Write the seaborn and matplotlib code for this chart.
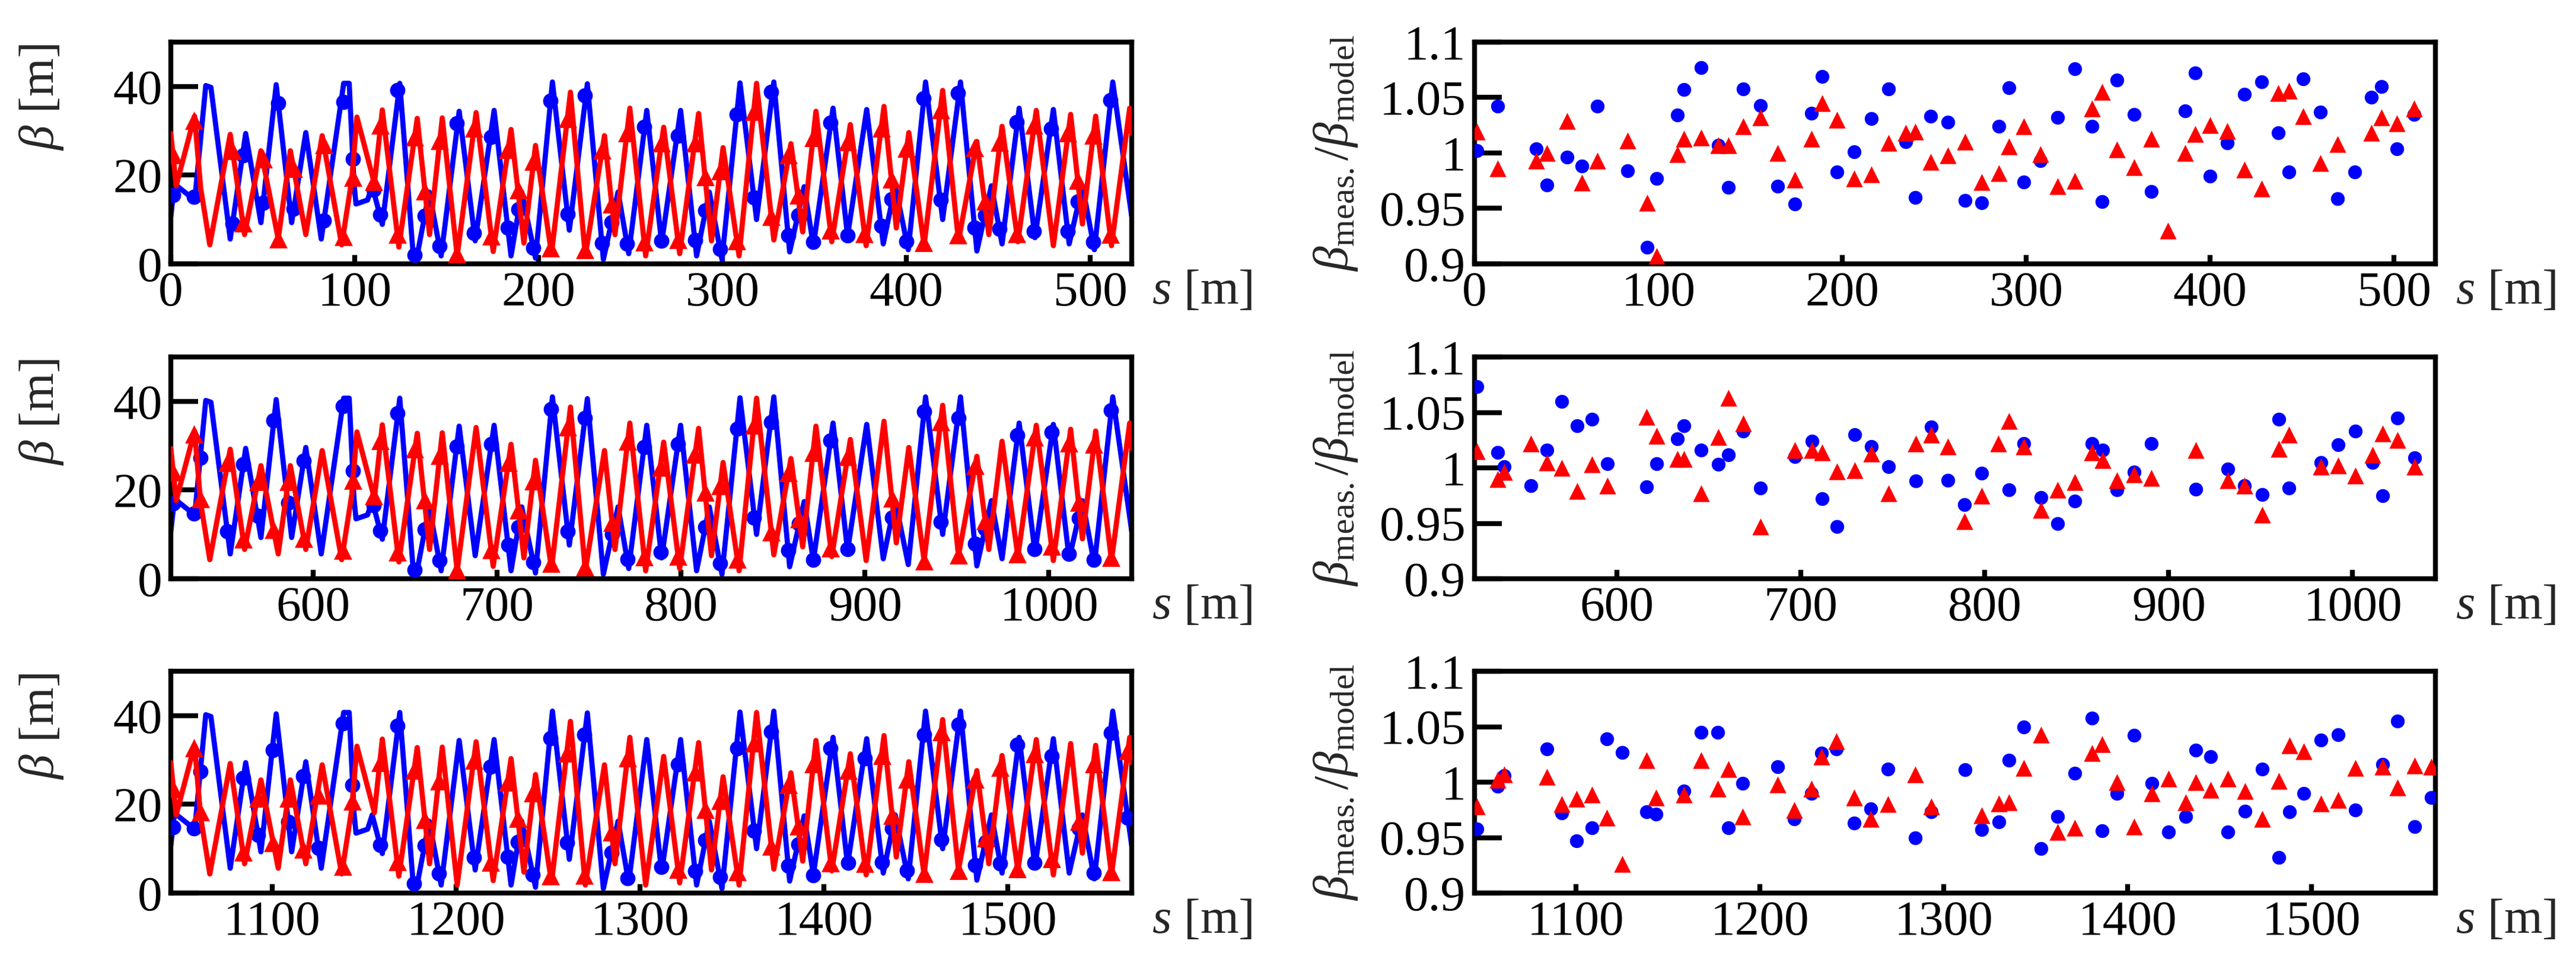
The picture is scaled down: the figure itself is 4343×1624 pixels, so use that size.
"""Beta functions and measured/model beta ratio along the ring, three superperiods."""

import matplotlib

matplotlib.use("Agg")

import matplotlib.pyplot as plt
import numpy as np
import seaborn as sns

SUPERPERIOD = 522.5

# model beta, one superperiod (peak / trough vertices)
lat_s_blue = [0, 2, 13, 19, 21.8, 32.3, 40.7, 49, 57.3, 65.7, 73.4, 81.8, 94, 97, 99.6,
              100.7, 107, 109.5, 115, 124.5, 131.8, 134, 140.5, 147, 156.8, 165.5, 175.8,
              185, 190.8, 198.3, 207.5, 216.7, 226.5, 235.2, 243.2, 249, 258.8, 266.9,
              277.2, 285.9, 292.8, 299.7, 309.5, 318.5, 327.9, 336.5, 344.4, 349.4, 360.1,
              368, 378.4, 387.4, 393.9, 401, 410.4, 419.7, 429.4, 438.3, 446.2, 452, 461.3,
              469.9, 479.9, 488.5, 495.7, 502.2, 512.2, 522.5]
lat_b_blue = [10.7, 18, 14.4, 40.2, 39.8, 5.6, 29.4, 9.3, 40.4, 9.3, 29.6, 5.6, 40.7, 40.7, 18.1,
              13.5, 14.4, 17.6, 8.9, 40.7, 2.0, 2.0, 16.2, 1.8, 34.4, 5.2, 34.6,
              1.8, 16.2, 1.3, 41, 7.6, 40.6, 1.0, 16.2, 2.3, 34.6, 4.7,
              34.6, 1.8, 16.2, 1.0, 40.8, 10, 41, 2.7, 17.4, 4.1, 35.1,
              6.3, 34.8, 4.5, 17.6, 3.2, 41, 10, 41, 2.9, 17.6, 4.5, 35.1,
              5.9, 34.8, 4.5, 17.6, 3.2, 41, 10.7]

lat_s_red = [0, 2.9, 12.9, 16.2, 21.2, 32.3, 40.1, 49, 58.4, 65, 73.4, 82.3, 92.9, 98.4, 101.2,
             110.7, 115, 124, 134, 140.7, 147.6, 155.7, 166, 175.3, 185, 192, 198.3, 207,
             217.3, 225.4, 235.8, 241.5, 249.6, 258.2, 268, 276.7, 287, 294, 300.3, 309,
             318.5, 327.9, 337.2, 343.6, 350.8, 359.4, 369.5, 378.1, 387.8, 394.5, 401.3,
             409.6, 419.7, 428.3, 438.3, 444.8, 452, 460.6, 470.6, 479.9, 489.3, 495.7,
             502.9, 511.5, 521.4, 522.5]
lat_b_red = [29.4, 17.6, 33.3, 17.2, 4.3, 29.2, 6.6, 25.5, 5.6, 25.5, 6.6, 28.9, 4.3, 19.0, 33.1,
             18.1, 34.7, 3.8, 32.8, 6.6, 32.9, 1.8, 34.1, 2.8, 30.3, 4.7, 26.7, 2.3,
             38.7, 1.8, 28.9, 6.6, 35.1, 1.8, 30.8, 2.3, 33.9, 5.2, 26.2, 1.8,
             40.7, 5.4, 27.1, 7.2, 34.4, 5.0, 31.4, 4.1, 35.5, 8.1, 29.6,
             4.1, 39.1, 5.2, 27.6, 6.6, 31.0, 5.0, 34.6, 4.1, 33.7, 9.0,
             33.3, 4.1, 35.1, 29.4]

nan = np.nan

# BPM positions and beta_meas / beta_model (blue, red), one row per superperiod
row1_s = [1.3, 12.6, 33.5, 39.2, 50.2, 58.3, 66.7, 83.3, 93.7, 98.9, 110.4, 114.0, 123.2,
          132.5, 138.2, 146.1, 155.6, 164.9, 174.2, 183.3, 188.9, 197.1, 206.5, 215.8,
          225.1, 234.4, 239.8, 248.1, 257.4, 266.7, 275.7, 285.0, 290.5, 298.6, 307.8,
          317.2, 326.4, 335.7, 341.2, 349.2, 358.6, 367.9, 377.1, 386.3, 391.9, 400.0,
          409.4, 418.6, 427.9, 437.1, 442.7, 450.7, 460.0, 469.4, 478.6, 487.8, 493.3,
          501.4, 510.8]
row1_blue = [1.002, 1.042, 1.004, 0.971, 0.996, 0.988, 1.042, 0.984, 0.915, 0.977, 1.034, 1.057,
             1.077, 1.007, 0.969, 1.058, 1.043, 0.970, 0.954, 1.036, 1.069, 0.983, 1.001, 1.031,
             1.058, 1.010, 0.960, 1.033, 1.028, 0.957, 0.955, 1.024, 1.059, 0.974, 0.993,
             1.032, 1.076, 1.024, 0.956, 1.066, 1.035, 0.965, nan, 1.038, 1.072, 0.979,
             1.009, 1.053, 1.064, 1.018, 0.983, 1.067, 1.037, 0.959, 0.983, 1.050, 1.060,
             1.004, 1.035]
row1_red = [1.019, 0.986, 0.993, 1.000, 1.029, 0.973, 0.993, 1.011, 0.955, 0.907, 0.999, 1.013,
            1.014, 1.007, 1.007, 1.024, 1.032, 1.000, 0.976, 1.013, 1.045, 1.030, 0.977, 0.981,
            1.009, 1.018, 1.019, 0.992, 0.998, 1.010, 0.974, 0.982, 1.006, 1.024, 0.999,
            0.970, 0.975, 1.040, 1.055, 1.003, 0.987, 1.013, 0.930, 1.000, 1.017, 1.025,
            1.020, 0.985, 0.968, 1.054, 1.056, 1.033, 0.991, 1.008, nan, 1.018, 1.032,
            1.027, 1.040]

row2_s = [523.9, 535.2, 538.5, 553.2, 561.8, 569.8, 578.2, 586.3, 594.7, 616.1, 621.4, 632.9,
          636.5, 645.8, 655.0, 660.6, 668.5, 678.1, 696.7, 705.9, 711.6, 719.5, 729.1, 738.4,
          747.7, 762.5, 770.7, 779.9, 789.0, 798.3, 807.4, 813.2, 821.1, 830.5, 839.7, 849.0,
          858.2, 864.1, 871.8, 881.3, 890.6, 914.6, 932.1, 941.3, 950.7, 959.7, 965.4, 982.9,
          992.2, 1001.4, 1010.7, 1016.2, 1024.3, 1033.8]
row2_blue = [1.073, 1.014, 1.001, 0.984, 1.016, 1.060, 1.038, 1.044, 1.004, 0.983, 1.004, 1.026,
             1.038, 1.016, 1.003, 1.012, 1.033, 0.982, 1.010, 1.024, 0.972, 0.947, 1.030, 1.019,
             1.001, 0.988, 1.037, 0.989, 0.967, 0.995, nan, 0.980, 1.022, 0.973, 0.950, 0.970,
             1.022, 1.016, 0.980, 0.996, 1.022, 0.981, 0.999, 0.984, 0.976, 1.044, 0.982, 1.005,
             1.021, 1.033, 1.005, 0.975, 1.045, 1.009]
row2_red = [1.015, 0.990, 0.996, 1.022, 1.005, 1.000, 0.979, 1.003, 0.984, 1.046, 1.029, 1.008,
            1.008, 0.977, 1.028, 1.063, 1.040, 0.947, 1.016, 1.016, 1.014, 0.997, 0.998, 1.013,
            0.977, 1.022, 1.030, 1.019, 0.952, 0.975, 1.022, 1.042, 1.019, 0.962, 0.980, 0.987,
            1.014, 1.007, 0.989, 0.994, 0.991, 1.016, 0.989, 0.984, 0.958, 1.017, 1.030, 1.001,
            1.002, 0.993, 1.012, 1.031, 1.025, 1.001]

row3_s = [1046.3, 1057.5, 1061.0, 1084.2, 1092.3, 1100.6, 1108.7, 1116.8, 1125.3, 1138.5,
          1143.8, 1158.7, 1168.1, 1177.3, 1183.2, 1190.8, 1209.7, 1219.0, 1228.2, 1233.8,
          1241.9, 1251.4, 1260.6, 1269.9, 1284.7, 1293.5, 1311.6, 1320.7, 1330.0, 1335.6,
          1343.6, 1353.0, 1362.2, 1371.4, 1380.8, 1386.2, 1394.4, 1403.8, 1413.2, 1422.3,
          1431.6, 1437.2, 1445.1, 1454.5, 1464.0, 1473.3, 1482.4, 1488.1, 1496.0, 1505.4,
          1514.7, 1523.8, 1538.9, 1546.7, 1556.3, 1565.3]
row3_blue = [0.958, 0.996, 1.006, 1.030, 0.972, 0.947, 0.959, 1.039, 1.027, 0.973,
             0.971, 0.992, 1.045, 1.045, 0.959, 0.999, 1.014, 0.967, 0.990, 1.026,
             1.030, 0.963, 0.976, 1.012, 0.950, 0.973, 1.011, 0.957, 0.964, 1.020,
             1.050, 0.940, 0.969, 1.008, 1.058, 0.956, 0.990, 1.042, 0.999, 0.955,
             0.969, 1.029, 1.023, 0.955, 0.974, 1.012, 0.932, 0.973, 0.990, 1.038,
             1.043, 0.975, 1.016, 1.055, 0.960, 0.986]
row3_red = [0.978, 1.002, 1.007, 1.005, 0.980, 0.985, 0.989, 0.968, 0.926, 1.020,
            0.986, 0.989, 1.020, 0.994, 1.012, 0.969, 0.998, 0.975, 0.994, 1.023,
            1.037, 0.986, 0.967, 0.980, 1.007, 0.978, nan, 0.970, 0.981, 0.982,
            1.013, 1.043, 0.955, 0.959, 1.026, 1.034, 1.000, 0.960, 0.990, 1.003,
            0.982, 1.000, 0.993, 1.003, 0.992, 0.967, 1.001, 1.033, 1.028, 0.981,
            0.984, 1.013, 1.014, 0.995, 1.015, 1.014]

rows = [
    (row1_s, row1_blue, row1_red, [0, 100, 200, 300, 400, 500]),
    (row2_s, row2_blue, row2_red, [600, 700, 800, 900, 1000]),
    (row3_s, row3_blue, row3_red, [1100, 1200, 1300, 1400, 1500]),
]

BLUE = "#0000ff"
RED = "#ff0000"
FS = 20

sns.set_style("ticks")
plt.rcParams.update(
    {
        "font.family": ["Liberation Serif", "DejaVu Serif"],
        "mathtext.fontset": "custom",
        "mathtext.rm": "Liberation Serif",
        "mathtext.it": "Liberation Serif:italic",
        "font.size": FS,
        "axes.linewidth": 2.0,
        "axes.edgecolor": "black",
        "xtick.direction": "in",
        "ytick.direction": "in",
        "xtick.color": "black",
        "ytick.color": "black",
    }
)

fig = plt.figure(figsize=(4343 / 300, 1624 / 300), dpi=300)

ax_w = 1620 / 4343
ax_h = 374 / 1624
left_x = 288 / 4343
right_x = 2486 / 4343
bottoms = [1 - 445 / 1624, 1 - 976 / 1624, 1 - 1506 / 1624]


def style_axis(ax, xlim, xticks):
    ax.set_xlim(*xlim)
    ax.set_xticks(xticks)
    ax.tick_params(axis="x", length=3.5, width=2, pad=3, labelsize=FS)
    ax.tick_params(axis="y", length=11, width=2, pad=3.5, labelsize=FS)
    ax.set_xlabel("")
    for side in ("top", "right", "left", "bottom"):
        ax.spines[side].set_visible(True)
        ax.spines[side].set_linewidth(2.0)
    ax.text(1 + 34 / 1620, -67 / 374, r"$s$ [m]", transform=ax.transAxes,
            ha="left", va="baseline", fontsize=FS)


for k, (s_bpm, r_blue, r_red, xticks) in enumerate(rows):
    offset = k * SUPERPERIOD
    xlim = (offset, offset + SUPERPERIOD)
    s_bpm = np.asarray(s_bpm)
    r_blue = np.asarray(r_blue)
    r_red = np.asarray(r_red)

    # left: model beta lines with measured beta at the BPMs
    ax = fig.add_axes([left_x, bottoms[k], ax_w, ax_h])
    s_b = np.asarray(lat_s_blue) + offset
    s_r = np.asarray(lat_s_red) + offset
    meas_blue = np.interp(s_bpm, s_b, lat_b_blue) * r_blue
    meas_red = np.interp(s_bpm, s_r, lat_b_red) * r_red
    sns.lineplot(x=s_b, y=lat_b_blue, ax=ax, color=BLUE, linewidth=2.1,
                 estimator=None, sort=False, zorder=2)
    sns.scatterplot(x=s_bpm, y=meas_blue, ax=ax, color=BLUE, marker="o", s=6.2 ** 2,
                    linewidth=0, zorder=3)
    sns.lineplot(x=s_r, y=lat_b_red, ax=ax, color=RED, linewidth=2.1,
                 estimator=None, sort=False, zorder=4)
    sns.scatterplot(x=s_bpm, y=meas_red, ax=ax, color=RED, marker="^", s=7.4 ** 2,
                    linewidth=0, zorder=5)
    ax.set_ylim(0, 50)
    ax.set_yticks([0, 20, 40])
    style_axis(ax, xlim, xticks)
    ax.set_ylabel(r"$\beta$ [m]", fontsize=FS)
    ax.yaxis.set_label_coords(-0.110, 0.75)

    # right: ratio measured / model
    ax2 = fig.add_axes([right_x, bottoms[k], ax_w, ax_h])
    sns.scatterplot(x=s_bpm, y=r_blue, ax=ax2, color=BLUE, marker="o", s=5.6 ** 2,
                    linewidth=0, zorder=3)
    sns.scatterplot(x=s_bpm, y=r_red, ax=ax2, color=RED, marker="^", s=6.8 ** 2,
                    linewidth=0, zorder=4)
    ax2.set_ylim(0.9, 1.1)
    ax2.set_yticks([0.9, 0.95, 1.0, 1.05, 1.1])
    ax2.set_yticklabels(["0.9", "0.95", "1", "1.05", "1.1"])
    style_axis(ax2, xlim, xticks)
    ax2.set_ylabel(r"$\beta_{\mathrm{meas.}}/\beta_{\mathrm{model}}$", fontsize=FS, labelpad=8)

fig.savefig("out.png", dpi=300)
